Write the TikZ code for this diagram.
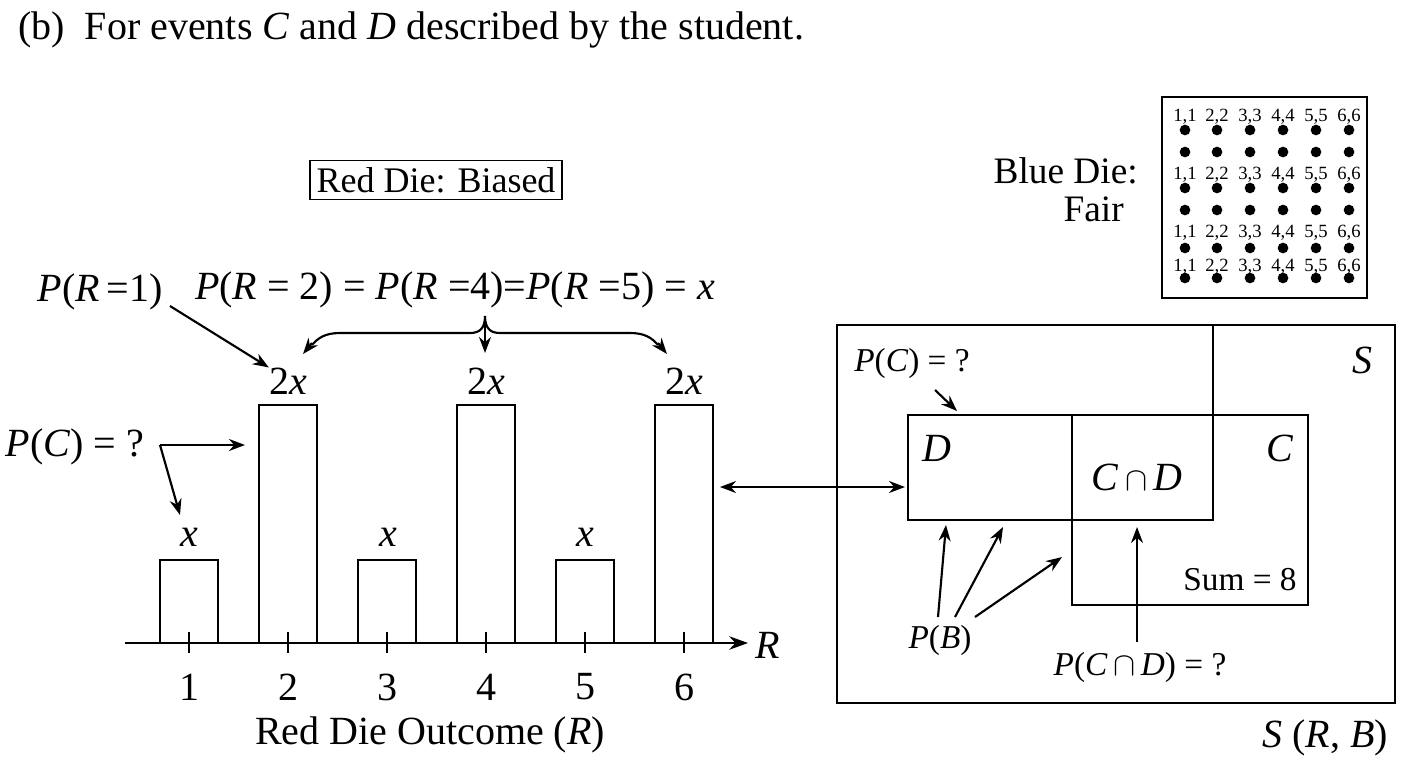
\documentclass[tikz,border=0pt]{standalone}
\usepackage{fontspec}
\setmainfont{Liberation Serif}
\usetikzlibrary{arrows.meta}
\newcommand{\mycap}{\,$\cap$\,}
\begin{document}
\begin{tikzpicture}[x=0.75pt,y=-0.75pt,
  every node/.style={inner sep=0pt,font=\fontsize{30}{34}\selectfont},
  sm/.style={font=\fontsize{25}{29}\selectfont},
  ln/.style={line width=2.2pt},
  ar/.style={line width=1.6pt,-{Stealth[length=12pt,width=9pt]}},
  gl/.style={font=\fontsize{14}{16}\selectfont},
  dot/.style={circle,fill=black,minimum size=8pt,inner sep=0pt}]
\useasboundingbox (0,0) rectangle (1408,768);
\node[anchor=west] (title) at (18,30) {(b)\enspace For events \textit{C} and \textit{D} described by the student.};
% bar chart
\coordinate (a0) at (125,643); \coordinate (a1) at (748,643);
\draw[ln,-{Stealth[length=14pt,width=10pt]}] (a0) -- (a1);
\node (R) at (768,645) {\itshape R};
\foreach \x/\t/\n in {160/560/1,259/405/2,358/560/3,457/405/4,556/560/5,655/405/6}{
  \draw[ln] (\x,643) -- (\x,\t) -- (\x+58,\t) -- (\x+58,643);
  \draw[ln] (\x+29,632) -- (\x+29,653);
  \node (t\n) at (\x+29,687) {\n};
}
\foreach \x/\n in {189/1,388/3,585/5}{\node (x\n) at (\x,537) {\itshape x};}
\foreach \x/\n in {288/2,486/4,684/6}{\node (x\n) at (\x,381) {2\itshape x};}
\node (axl) at (430,735) {Red Die Outcome (\textit{R})};
\node[draw,line width=1.2pt,inner sep=5pt,font=\fontsize{27}{30}\selectfont] (rd) at (436,180) {Red Die: Biased};
\node (pr1) at (100,292) {\textit{P}(\textit{R}\,=1)};
\draw[ar] (170,306) -- (x2.north west);
\node (pr2) at (455,290) {\textit{P}(\textit{R} = 2) = \textit{P}(\textit{R} =4)=\textit{P}(\textit{R} =5) = \textit{x}};
\coordinate (bm) at (485,316);
\draw[line width=1.6pt] (bm) .. controls (485,328) and (480,333) .. (470,333) -- (340,333) .. controls (325,333) and (318,338) .. (312,345);
\draw[ar] (312,343) -- (303,354);
\draw[line width=1.6pt] (bm) .. controls (485,328) and (490,333) .. (500,333) -- (630,333) .. controls (645,333) and (652,338) .. (658,345);
\draw[ar] (658,343) -- (667,354);
\draw[ar] (bm) -- (485,353);
\node (pc1) at (75,447) {\textit{P}(\textit{C}) = ?};
\coordinate (pcs) at (160,445);
\draw[ar] (pcs) -- (245,445);
\draw[ar] (pcs) -- (180,515);
% double arrow
\draw[line width=1.6pt,{Stealth[length=12pt,width=9pt]}-{Stealth[length=12pt,width=9pt]}] (720,487) -- (905,487);
% venn
\draw[ln] (837,325) rectangle (1395,703);
\node (S) at (1362,360) {\itshape S};
\node (SRB) at (1325,738) {\textit{S} (\textit{R}, \textit{B})};
\draw[ln] (1213,325) -- (1213,415);
\draw[ln] (908,415) rectangle (1213,520);
\draw[ln] (1072,415) rectangle (1308,605);
\node (D) at (937,448) {\itshape D};
\node (C) at (1280,448) {\itshape C};
\node (CD) at (1137,477) {\textit{C}\mycap\textit{D}};
\node[sm] (sum) at (1240,580) {Sum = 8};
\node[sm] (pc2) at (912,363) {\textit{P}(\textit{C}) = ?};
\draw[ar] (935,390) -- (957,411);
\node[sm] (pb) at (940,640) {\textit{P}(\textit{B})};
\draw[ar] (938,617) -- (946,525);
\draw[ar] (955,617) -- (1003,527);
\draw[ar] (975,617) -- (1062,557);
\node[sm] (pcd) at (1140,667) {\textit{P}(\textit{C}\mycap\textit{D}) = ?};
\draw[ar] (1137,642) -- (1137,527);
% blue die
\node[anchor=east,font=\fontsize{28}{32}\selectfont] (bd1) at (1138,171) {Blue Die:};
\node[anchor=east,font=\fontsize{28}{32}\selectfont] (bd2) at (1124,209) {Fair};
\draw[line width=1.2pt] (1162,97) rectangle (1367,298);
\foreach \x/\l in {1185/1,1217/2,1250/3,1283/4,1316/5,1349/6}{
  \foreach \y in {117,175,233,267}{\node[gl] at (\x,\y) {\l,\l};}
  \foreach \y in {130,152,188,210,248,278}{\node[dot] at (\x,\y) {};}
}
\end{tikzpicture}
\end{document}
